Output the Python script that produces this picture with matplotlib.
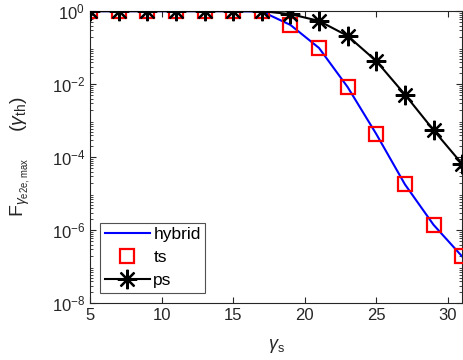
import matplotlib
matplotlib.use("Agg")
import matplotlib.pyplot as plt
from matplotlib.ticker import LogLocator, NullFormatter

plt.rcParams['font.family'] = ['Liberation Sans', 'DejaVu Sans']
plt.rcParams['mathtext.fontset'] = 'custom'
plt.rcParams['mathtext.rm'] = 'Liberation Sans'
plt.rcParams['mathtext.it'] = 'Liberation Sans:italic'

# ---- data ----
gamma_s = [5, 7, 9, 11, 13, 15, 17, 19, 21, 23, 25, 27, 29, 31]
hybrid = [1.0, 1.0, 1.0, 1.0, 1.0, 1.0, 0.98, 0.42, 0.098, 8.3e-3, 4.3e-4, 1.8e-5, 1.4e-6, 1.9e-7]
ts = [1.0, 1.0, 1.0, 1.0, 1.0, 1.0, 0.98, 0.42, 0.098, 8.3e-3, 4.3e-4, 1.8e-5, 1.4e-6, 1.9e-7]
ps = [1.0, 1.0, 1.0, 1.0, 1.0, 1.0, 1.0, 0.83, 0.54, 0.21, 0.043, 5.2e-3, 5.5e-4, 6.5e-5]

fig = plt.figure(figsize=(4.64, 3.6), dpi=100)
ax = fig.add_axes([0.194, 0.158, 0.802, 0.811])

# asterisk marker: 8 arms, like a '+' and 'x' on top of each other
asterisk = (8, 2, 0)

ax.semilogy(gamma_s, hybrid, color='blue', linewidth=1.5, label='hybrid', zorder=3)
ax.semilogy(gamma_s, ts, linestyle='none', marker='s', markersize=10,
            markerfacecolor='none', markeredgecolor='red', markeredgewidth=1.6,
            label='ts', zorder=4)
ax.semilogy(gamma_s, ps, color='black', linewidth=1.5, marker=asterisk, markersize=14,
            markeredgewidth=1.6, label='ps', zorder=5)

ax.set_xlim(5, 31)
ax.set_ylim(1e-8, 1)
ax.set_xticks([5, 10, 15, 20, 25, 30])
ax.set_yticks([1e-8, 1e-6, 1e-4, 1e-2, 1])
ax.set_yticklabels([r'10$^{-8}$', r'10$^{-6}$', r'10$^{-4}$', r'10$^{-2}$', r'10$^{0}$'])
ax.yaxis.set_minor_locator(LogLocator(base=10, subs=range(2, 10), numticks=20))
ax.yaxis.set_minor_formatter(NullFormatter())

ax.tick_params(which='both', direction='in', top=True, right=True,
               colors='#262626', labelsize=12)
ax.tick_params(which='major', length=4)
ax.tick_params(which='minor', length=2)
for sp in ax.spines.values():
    sp.set_color('#262626')
    sp.set_linewidth(0.8)

ax.set_xlabel(r'$\gamma_{\rm s}$', fontsize=13, color='#262626', labelpad=10)
ax.set_ylabel(r'F$_{\gamma_{\rm e2e,max}}$     ($\gamma_{\rm th}$)', fontsize=14,
              color='#262626', labelpad=14)

leg = ax.legend(loc='lower left', fontsize=12.5, frameon=True, fancybox=False,
                edgecolor='#262626', borderpad=0.25, handlelength=2.6,
                handletextpad=0.2, labelspacing=0.45, borderaxespad=0.6)
leg.get_frame().set_linewidth(0.8)

fig.savefig('out.png', dpi=100)
